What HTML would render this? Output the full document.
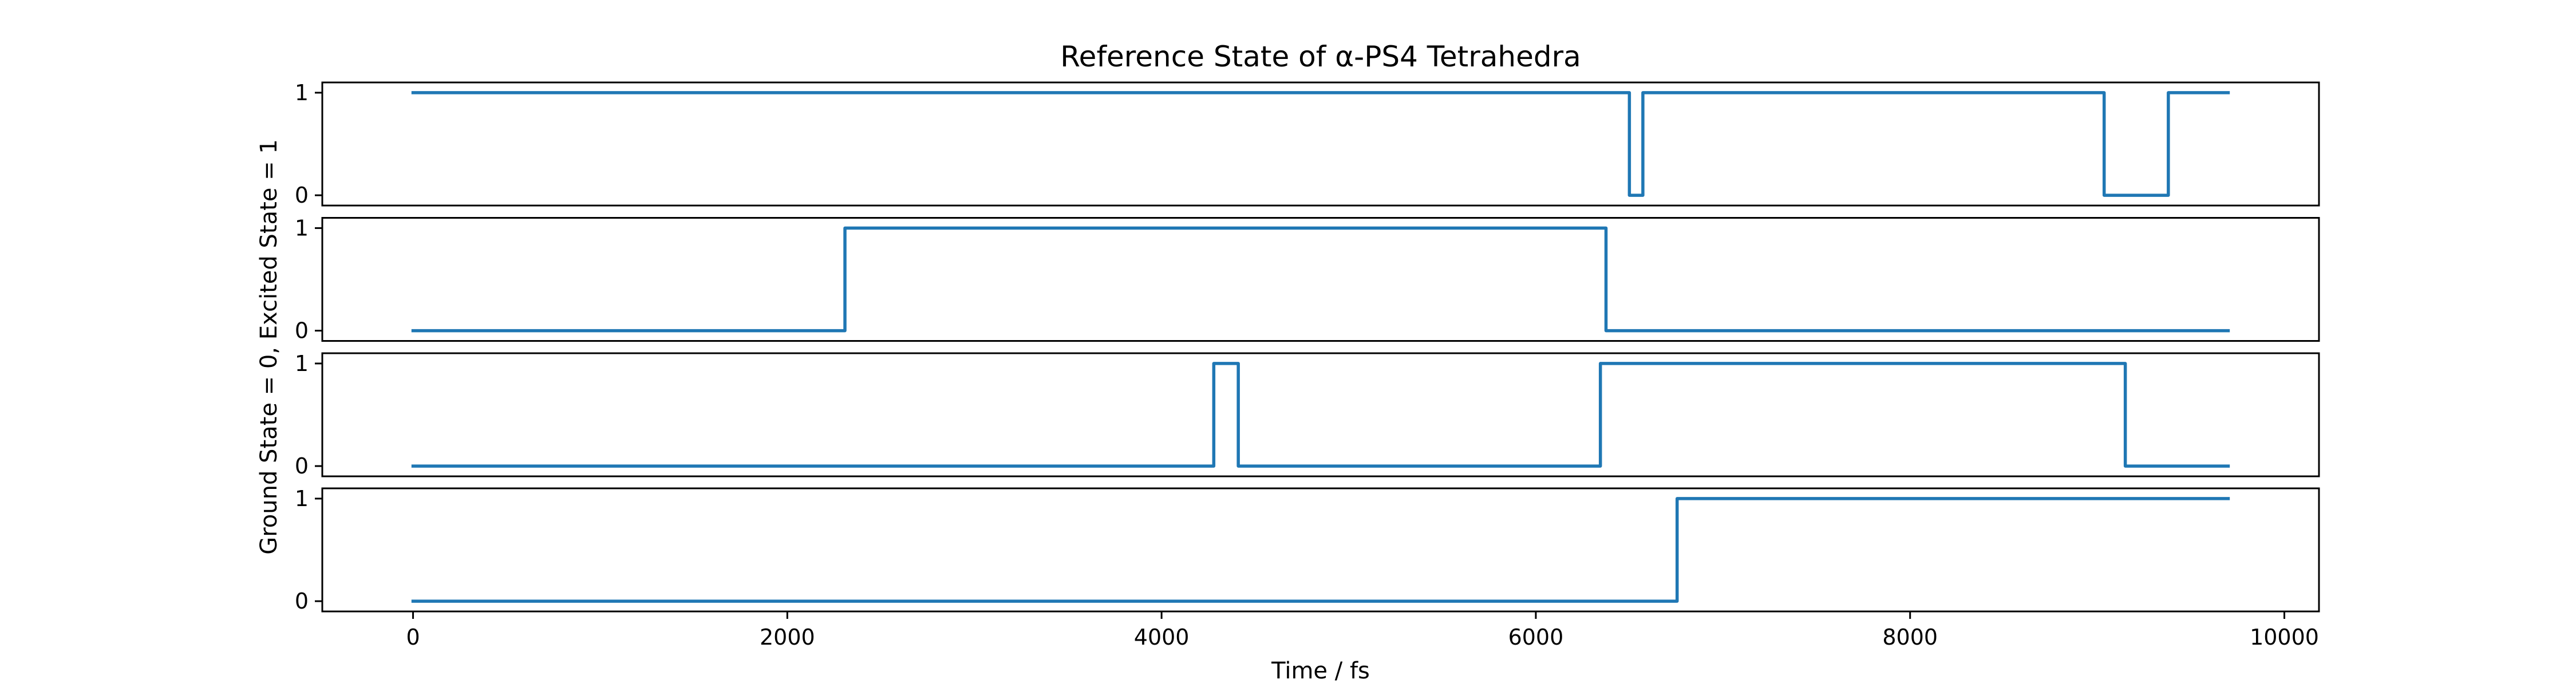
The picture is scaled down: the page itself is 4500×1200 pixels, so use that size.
<!DOCTYPE html>
<html><head><meta charset="utf-8"><style>
html,body{margin:0;padding:0;background:#fff}
svg{display:block;font-family:"DejaVu Sans","Liberation Sans",sans-serif}
</style></head><body>
<svg id="chart" width="4500" height="1200" viewBox="0 0 4500 1200">
<rect width="4500" height="1200" fill="#fff"/>
<text x="2307" y="116" font-size="50" text-anchor="middle">Reference State of α-PS4 Tetrahedra</text>
<text transform="translate(483,606) rotate(-90)" font-size="40" text-anchor="middle">Ground State = 0, Excited State = 1</text>
<text x="2307" y="1185" font-size="40" text-anchor="middle">Time / fs</text>
</svg>
<script>
// step-series data: change times (fs) and states after each change
const xEnd = 9700;
const tA = [0, 6500, 6572, 9037, 9380];
const sA = [1, 0, 1, 0, 1];
const tB = [0, 2308, 6375];
const sB = [0, 1, 0];
const tC = [0, 4279, 4410, 6345, 9150];
const sC = [0, 1, 0, 1, 0];
const tD = [0, 6755];
const sD = [0, 1];
const xTicks = [0, 2000, 4000, 6000, 8000, 10000];
const yTicks = [0, 1];

const NS = "http://www.w3.org/2000/svg";
const svg = document.getElementById('chart');
const axL = 563, axR = 4051, xMin = -485, xMax = 10185;
const panelTops = [144, 380.5, 617, 853], panelH = 215;
function xs(v){ return axL + (v - xMin) / (xMax - xMin) * (axR - axL); }
function ysFor(top){ return v => top + panelH - (v + 0.1) / 1.2 * panelH; }
function mk(tag, attrs){ const e = document.createElementNS(NS, tag); for (const k in attrs) e.setAttribute(k, attrs[k]); return e; }

const series = [[tA, sA], [tB, sB], [tC, sC], [tD, sD]];
series.forEach((ser, i) => {
  const top = panelTops[i], ys = ysFor(top);
  const g = mk('g', {});
  
  
  svg.appendChild(g);
  const t = ser[0], s = ser[1];
  let d = 'M' + xs(t[0]) + ' ' + ys(s[0]);
  for (let k = 1; k < t.length; k++) {
    d += ' L' + xs(t[k]) + ' ' + ys(s[k - 1]) + ' L' + xs(t[k]) + ' ' + ys(s[k]);
  }
  d += ' L' + xs(xEnd) + ' ' + ys(s[s.length - 1]);
  const p = mk('path', {d: d, fill: 'none', stroke: '#1f77b4', 'stroke-width': 5.5, 'stroke-linejoin': 'round', 'stroke-linecap': 'square'});
  
  
  g.appendChild(p);
  const fr = mk('rect', {x: axL, y: top, width: axR - axL, height: panelH, fill: 'none', stroke: '#000', 'stroke-width': 3});
  
  
  g.appendChild(fr);
  yTicks.forEach(v => {
    const y = ys(v);
    const tk = mk('line', {x1: axL - 13, x2: axL, y1: y, y2: y, stroke: '#000', 'stroke-width': 3});
    
    
    g.appendChild(tk);
    const lb = mk('text', {x: axL - 24, y: y + 13, 'font-size': 38, 'text-anchor': 'end'});
    lb.textContent = String(v);
    
    
    g.appendChild(lb);
  });
});
const bottom = panelTops[3] + panelH;
xTicks.forEach(v => {
  const x = xs(v);
  const tk = mk('line', {x1: x, x2: x, y1: bottom, y2: bottom + 13, stroke: '#000', 'stroke-width': 3});
  
  
  svg.appendChild(tk);
  const lb = mk('text', {x: x, y: bottom + 58, 'font-size': 38, 'text-anchor': 'middle'});
  lb.textContent = String(v);
  
  
  svg.appendChild(lb);
});
</script>
</body></html>
